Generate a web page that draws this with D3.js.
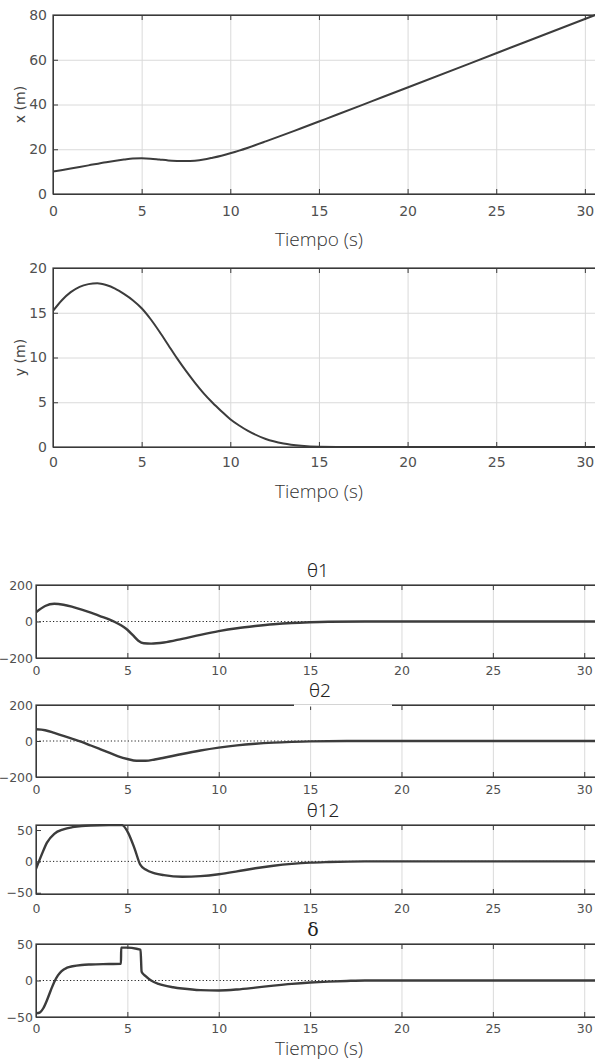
<!DOCTYPE html>
<html>
<head>
<meta charset="utf-8">
<script src="https://cdn.jsdelivr.net/npm/d3@7"></script>
<style>
  body { margin: 0; background: #fff; }
  svg { display: block; }
  .tick text { fill: #505050; font-family: "DejaVu Sans", sans-serif; }
</style>
</head>
<body>
<div id="chart"></div>
<script>
// data
var xTicks = [0, 5, 10, 15, 20, 25, 30];

var posXT = [0, 1, 2, 3, 4, 4.5, 5, 5.5, 6, 6.5, 7, 7.5, 8, 8.5, 9, 9.5, 10, 10.5, 11, 12, 13, 14, 15, 16, 18, 20, 25, 30, 31];
var posXV = [10, 11.4, 12.8, 14.2, 15.4, 15.9, 16.0, 15.8, 15.4, 15.0, 14.8, 14.7, 14.9, 15.4, 16.2, 17.1, 18.2, 19.4, 20.7, 23.5, 26.4, 29.4, 32.4, 35.4, 41.5, 47.6, 62.9, 78.2, 81.2];
var posXTicks = [0, 20, 40, 60, 80];

var posYT = [0, 0.5, 1, 1.5, 2, 2.5, 3, 3.5, 4, 4.5, 5, 5.5, 6, 6.5, 7, 7.5, 8, 8.5, 9, 9.5, 10, 10.5, 11, 12, 13, 14, 15, 17, 20, 31];
var posYV = [15.2, 16.4, 17.3, 17.9, 18.2, 18.3, 18.1, 17.7, 17.1, 16.4, 15.5, 14.3, 12.9, 11.4, 9.9, 8.5, 7.2, 6.0, 4.95, 4.0, 3.1, 2.4, 1.8, 0.9, 0.4, 0.15, 0.04, 0, 0, 0];
var posYTicks = [0, 5, 10, 15, 20];

var th1T = [0, 0.5, 1, 1.5, 2, 2.5, 3, 3.5, 4, 4.5, 4.8, 5, 5.3, 5.6, 5.9, 6.3, 7, 8, 9, 10, 11, 12, 13, 14, 15, 16, 18, 31];
var th1V = [50, 85, 97, 92, 80, 65, 48, 30, 12, -12, -30, -45, -75, -105, -119, -121, -115, -95, -73, -53, -37, -25, -15, -8, -4, -1.5, 0, 0];

var th2T = [0, 0.5, 1, 1.5, 2, 2.5, 3, 3.5, 4, 4.5, 5, 5.5, 6, 6.5, 7, 8, 9, 10, 11, 12, 13, 14, 15, 17, 31];
var th2V = [65, 60, 45, 28, 12, -5, -25, -45, -65, -85, -100, -110, -110, -103, -93, -72, -53, -37, -24, -15, -9, -5, -2, 0, 0];
var angTicks = [-200, 0, 200];

var th12T = [0, 0.3, 0.6, 1, 1.5, 2, 2.5, 3, 4, 4.7, 5, 5.4, 5.7, 6, 6.5, 7, 8, 9, 10, 11, 12, 13, 14, 15, 16, 18, 31];
var th12V = [-12, 10, 30, 44, 51, 54.5, 56.5, 57.3, 57.8, 57.8, 48, 20, -5, -13, -19, -22, -24.5, -23.5, -20.5, -16, -11, -7, -4, -2, -1, 0, 0];
var th12Ticks = [-50, 0, 50];

var delT = [0, 0.2, 0.4, 0.6, 0.8, 1.0, 1.2, 1.4, 1.7, 2, 2.5, 3, 4, 4.65, 4.66, 5, 5.5, 5.72, 5.78, 6, 6.3, 6.7, 7, 7.5, 8, 9, 10, 11, 12, 13, 14, 15, 16, 17, 18, 31];
var delV = [-45, -44, -38, -27, -14, -2, 7, 13, 17.5, 19.5, 21.3, 22, 22.6, 23, 45, 45, 43.5, 42, 12, 6, 0, -4.5, -6.8, -9.2, -11, -13.2, -13.6, -12.3, -9.8, -7, -4.6, -2.8, -1.5, -0.6, 0, 0];
var delTicks = [-50, 0, 50];

var W = 595, H = 1062;
var svg = d3.select("#chart").append("svg")
  .attr("width", W)
  .attr("height", H);

var pid = 0;
function panel(c) {
  var x = d3.scaleLinear().domain([0, 31]).range([c.left, c.right]);
  var y = d3.scaleLinear().domain(c.yDomain).range([c.bottom, c.top]);
  var g = svg.append("g");
  var h = c.bottom - c.top;

  // vertical grid
  g.append("g")
    .attr("class", "grid")
    .attr("transform", "translate(0," + c.bottom + ")")
    .call(d3.axisBottom(x).tickValues(xTicks).tickSize(-h).tickFormat(""));
  // horizontal grid
  if (c.hgrid) {
    g.append("g")
      .attr("class", "grid")
      .attr("transform", "translate(" + c.left + ",0)")
      .call(d3.axisLeft(y).tickValues(c.yTicks).tickSize(-(c.right - c.left)).tickFormat(""));
  }
  g.selectAll(".grid .domain").remove();
  g.selectAll(".grid line").attr("stroke", "#dadada");

  // zero line
  if (c.zero) {
    g.append("line")
      .attr("x1", c.left).attr("x2", c.right)
      .attr("y1", y(0)).attr("y2", y(0))
      .attr("stroke", "#222").attr("stroke-width", 1)
      .attr("stroke-dasharray", "1.2,2.2");
  }

  // series
  var id = "clip" + (pid++);
  g.append("clipPath").attr("id", id).append("rect")
    .attr("x", c.left).attr("y", c.top - 1)
    .attr("width", c.right - c.left).attr("height", h + 2);
  var pts = c.t.map(function(t, i) { return [t, c.v[i]]; });
  var line = d3.line()
    .x(function(d) { return x(d[0]); })
    .y(function(d) { return y(d[1]); })
    .curve(d3.curveMonotoneX);
  g.append("path")
    .attr("clip-path", "url(#" + id + ")")
    .attr("d", line(pts))
    .attr("fill", "none")
    .attr("stroke", "#3c3c3c")
    .attr("stroke-width", c.lw)
    .attr("stroke-linejoin", "round");

  // axes: bottom/left with labels, top/right with ticks only
  var ax = g.append("g").attr("class", "ax")
    .attr("transform", "translate(0," + c.bottom + ")")
    .call(d3.axisBottom(x).tickValues(xTicks).tickSize(-5).tickPadding(c.xpad));
  ax.selectAll("text").style("font-size", c.fs + "px");
  g.append("g").attr("class", "ax")
    .attr("transform", "translate(0," + c.top + ")")
    .call(d3.axisTop(x).tickValues(xTicks).tickSize(-5).tickFormat(""));
  var ay = g.append("g").attr("class", "ax")
    .attr("transform", "translate(" + c.left + ",0)")
    .call(d3.axisLeft(y).tickValues(c.yTicks).tickSize(-5).tickPadding(c.ypad));
  ay.selectAll("text").style("font-size", c.fs + "px");
  g.append("g").attr("class", "ax")
    .attr("transform", "translate(" + c.right + ",0)")
    .call(d3.axisRight(y).tickValues(c.yTicks).tickSize(-5).tickFormat(""));
  g.selectAll(".ax .domain").attr("stroke", "#3a3a3a");
  g.selectAll(".ax line").attr("stroke", "#3a3a3a");

  // box
  g.append("rect")
    .attr("x", c.left).attr("y", c.top)
    .attr("width", c.right - c.left).attr("height", h)
    .attr("fill", "none").attr("stroke", "#3a3a3a").attr("stroke-width", 1.2);

  if (c.ylabel) {
    g.append("text")
      .attr("transform", "translate(25," + ((c.top + c.bottom) / 2) + ") rotate(-90)")
      .attr("text-anchor", "middle")
      .style("font-family", "'DejaVu Sans', sans-serif")
      .style("font-size", "14px")
      .style("fill", "#444")
      .text(c.ylabel);
  }
  if (c.title) {
    g.append("text")
      .attr("x", c.tx).attr("y", c.top - 8)
      .attr("text-anchor", "middle")
      .style("font-family", c.tfont || "'Noto Sans', sans-serif")
      .style("font-size", "19px")
      .style("font-weight", 300)
      .style("fill", "#222")
      .text(c.title);
  }
  return g;
}

function xlabel(cy) {
  svg.append("text")
    .attr("x", 319).attr("y", cy)
    .attr("text-anchor", "middle")
    .style("font-family", "'Open Sans', sans-serif")
    .style("font-size", "19px")
    .style("font-weight", 300)
    .style("fill", "#333")
    .text("Tiempo (s)");
}

// top two panels
panel({left: 53, right: 602.6, top: 15, bottom: 194, yDomain: [0, 80], yTicks: posXTicks,
  hgrid: true, t: posXT, v: posXV, lw: 2, fs: 14, xpad: 12, ypad: 6, ylabel: "x (m)"});
xlabel(246);
panel({left: 53, right: 602.6, top: 268, bottom: 447, yDomain: [0, 20], yTicks: posYTicks,
  hgrid: true, t: posYT, v: posYV, lw: 2, fs: 14, xpad: 10, ypad: 6, ylabel: "y (m)"});
xlabel(498);

// angle panels
panel({left: 36, right: 602.5, top: 585, bottom: 658, yDomain: [-200, 200], yTicks: angTicks,
  zero: true, t: th1T, v: th1V, lw: 2.4, fs: 12.5, xpad: 8, ypad: 3, title: "θ1", tx: 318});
panel({left: 36, right: 602.5, top: 705, bottom: 777, yDomain: [-200, 200], yTicks: angTicks,
  zero: true, t: th2T, v: th2V, lw: 2.4, fs: 12.5, xpad: 8, ypad: 3, title: "θ2", tx: 320});
// faint patch over the top border of the θ2 panel, as in the picture
svg.append("rect").attr("x", 294).attr("y", 703.5).attr("width", 98).attr("height", 3).attr("fill", "#fff");
svg.append("line").attr("x1", 294).attr("x2", 392).attr("y1", 704.5).attr("y2", 704.5)
  .attr("stroke", "#d4d4d4").attr("stroke-width", 1);
panel({left: 36, right: 602.5, top: 825, bottom: 894, yDomain: [-52, 58], yTicks: th12Ticks,
  zero: true, t: th12T, v: th12V, lw: 2.4, fs: 12.5, xpad: 10, ypad: 3, title: "θ12", tx: 323});
panel({left: 36, right: 602.5, top: 944, bottom: 1017, yDomain: [-50, 50], yTicks: delTicks,
  zero: true, t: delT, v: delV, lw: 2.4, fs: 12.5, xpad: 7, ypad: 3, title: "δ", tx: 313,
  tfont: "'DejaVu Serif', serif"});
xlabel(1055);
</script>
</body>
</html>
